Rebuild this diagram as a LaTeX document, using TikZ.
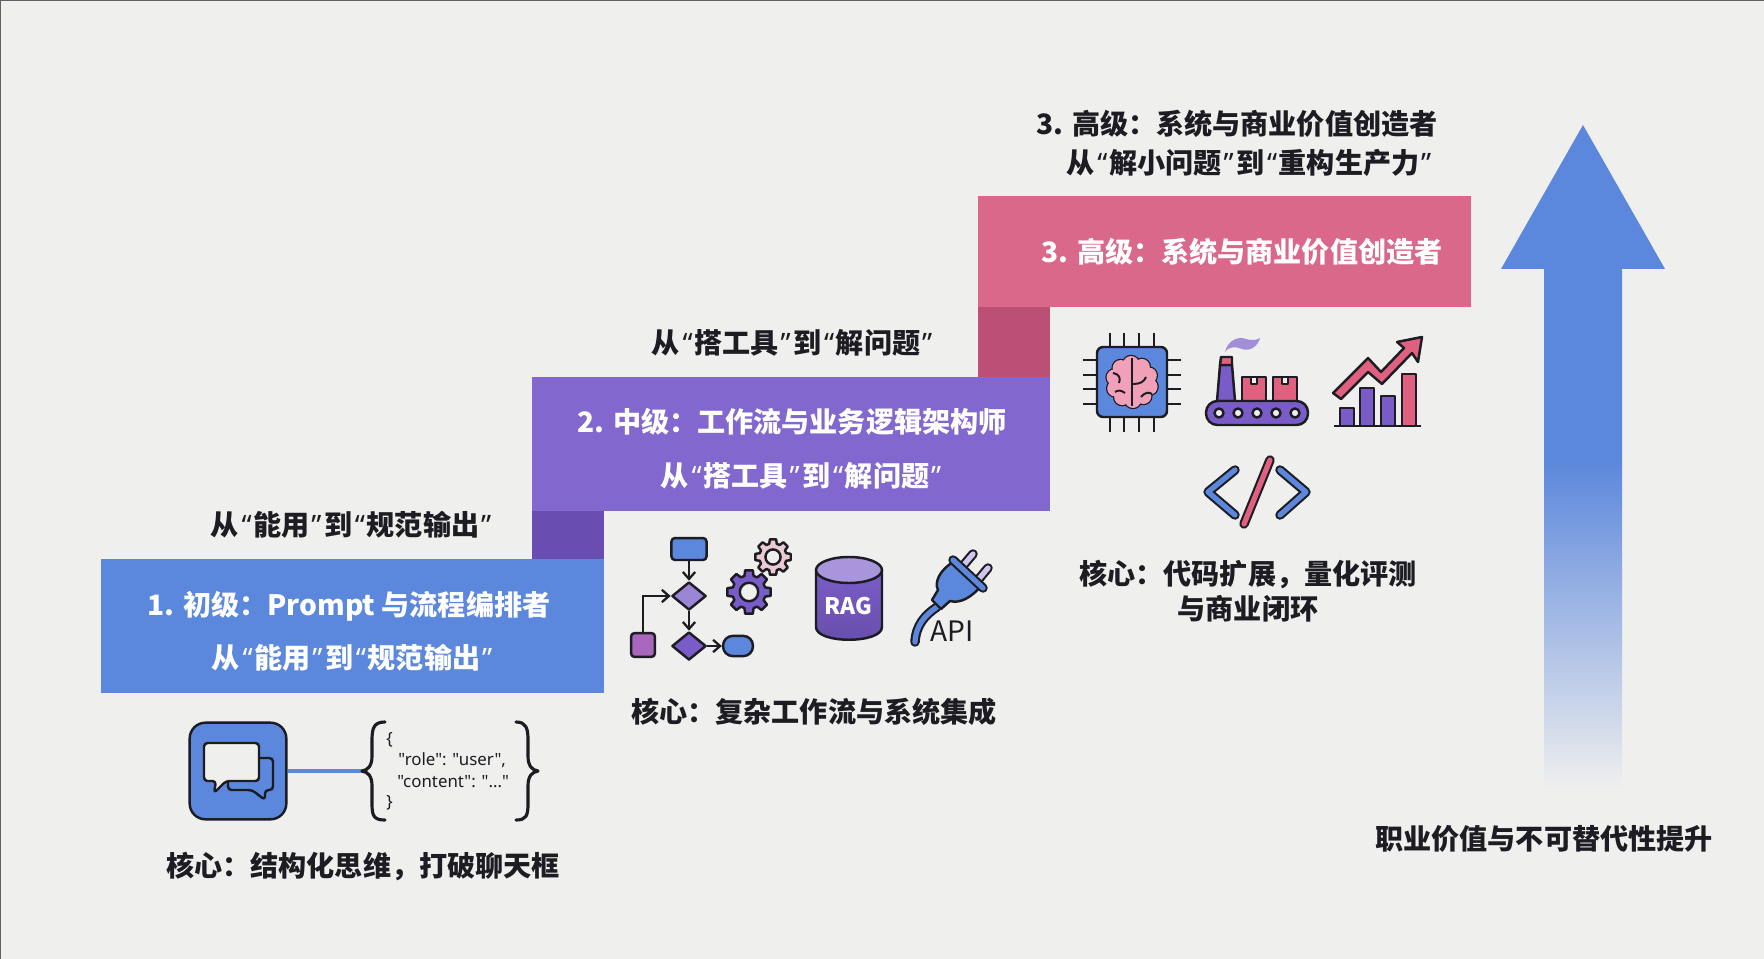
\documentclass[tikz,border=0pt]{standalone}
\usepackage{fontspec}
\setmainfont{Noto Sans CJK SC}
\newfontfamily\latinfont{Noto Sans}
\usetikzlibrary{arrows.meta,shapes.geometric}
\definecolor{pagebg}{HTML}{EFEFEE}
\definecolor{stepblue}{HTML}{5B87DC}
\definecolor{steppurple}{HTML}{8167CE}
\definecolor{steppink}{HTML}{D9688A}
\definecolor{linkpurple}{HTML}{6A4DB0}
\definecolor{linkpink}{HTML}{BC4F76}
\definecolor{iconpurple}{HTML}{7A5CC8}
\definecolor{iconpink}{HTML}{E0607F}
\definecolor{softpink}{HTML}{F0A0B8}
\definecolor{inputmauve}{HTML}{A866BD}
\definecolor{inkline}{HTML}{1C1C22}
\newcommand{\qopen}{\hspace{1.5pt}{\latinfont\bfseries “}\hspace{1pt}}
\newcommand{\qclose}{\hspace{1pt}{\latinfont\bfseries ”}\hspace{1.5pt}}
\newcommand{\gearicon}[3]{
	\begin{scope}[shift={#1},scale=#2]
		\draw[iconline,fill=#3] (-16:0.76) \foreach \a in {0,45,...,315}{
				-- (\a-16:0.76) -- (\a-10:1) -- (\a+10:1) -- (\a+16:0.76)
			} -- cycle;
		\draw[iconline,fill=pagebg] (0,0) circle (0.42);
	\end{scope}
}
\tikzset{
	steptext/.style={font=\fontsize{16}{20}\selectfont\bfseries,text=white,inner sep=0pt},
	blacktext/.style={font=\fontsize{16}{20}\selectfont\bfseries,text=inkline,inner sep=0pt},
	jsontext/.style={font=\latinfont\fontsize{9.6}{12}\selectfont,text=inkline,inner sep=0pt,anchor=west},
	iconline/.style={draw=inkline,line width=1.4pt,line join=round},
	outlined/.style={draw=inkline,line width=1.2pt,double=#1,double distance=3pt,line cap=round,line join=round},
	flowarrow/.style={draw=inkline,line width=1.3pt,-{Straight Barb[length=4pt,width=7pt]}},
	flowbox/.style={iconline,inner sep=0pt,rounded corners=2pt},
	flowdia/.style={iconline,diamond,inner sep=0pt,minimum width=19.5pt,minimum height=16pt}
}
\begin{document}
\begin{tikzpicture}[x=0.02cm,y=-0.02cm]
	\useasboundingbox (0,0) rectangle (1764,959);
	\fill[pagebg] (0,0) rectangle (1764,959);

	\fill[linkpink] (978,307) rectangle (1050,377);
	\fill[linkpurple] (532,511) rectangle (604,559);
	\fill[stepblue] (101,559) rectangle (604,693);
	\fill[steppurple] (532,377) rectangle (1050,511);
	\fill[steppink] (978,196) rectangle (1471,307);

	\node[blacktext] (seniortop) at (1237,124) {3. 高级：系统与商业价值创造者};
	\node[blacktext] (seniorsub) at (1249,163) {从\qopen 解小问题\qclose 到\qopen 重构生产力\qclose};
	\node[steptext] (senior) at (1242,252) {3. 高级：系统与商业价值创造者};
	\node[blacktext] (middletop) at (792,343) {从\qopen 搭工具\qclose 到\qopen 解问题\qclose};
	\node[steptext] (middle) at (792,422) {2. 中级：工作流与业务逻辑架构师};
	\node[steptext] (middlesub) at (801,476) {从\qopen 搭工具\qclose 到\qopen 解问题\qclose};
	\node[blacktext] (juniortop) at (351,525) {从\qopen 能用\qclose 到\qopen 规范输出\qclose};
	\node[steptext] (junior) at (349,606) {1. 初级：Prompt 与流程编排者};
	\node[steptext] (juniorsub) at (352,658) {从\qopen 能用\qclose 到\qopen 规范输出\qclose};

	\node[blacktext] (corejunior) at (363,866) {核心：结构化思维，打破聊天框};
	\node[blacktext] (coremiddle) at (814,712) {核心：复杂工作流与系统集成};
	\node[blacktext] (coresenior) at (1248,574) {核心：代码扩展，量化评测};
	\node[blacktext] (coreseniortwo) at (1248,609) {与商业闭环};
	\node[blacktext] (valuelabel) at (1544,839) {职业价值与不可替代性提升};

	\fill[stepblue] (1583,125) -- (1665,269) -- (1622,269) -- (1622,460) -- (1544,460) -- (1544,269) -- (1501,269) -- cycle;
	\shade[top color=stepblue,bottom color=pagebg] (1544,460) rectangle (1622,789);

	\node[iconline,fill=stepblue,rounded corners=9pt,inner sep=0pt,minimum width=55pt,minimum height=55pt] (chaticon) at (238,771) {};
	\coordinate (bracetip) at (362,771);
	\draw[stepblue,line width=2pt] (chaticon) -- (bracetip);
	\draw[iconline,fill=stepblue,rounded corners=2pt] (228,758) -- (273,758) -- (273,790) -- (265,790) -- (265,800) -- (252,790) -- (228,790) -- cycle;
	\draw[iconline,fill=pagebg,rounded corners=2pt] (204,743) -- (259,743) -- (259,781) -- (226,781) -- (214,793) -- (216,781) -- (204,781) -- cycle;
	\draw[iconline,line width=1.8pt,line cap=round] (385,722) .. controls (374,722) and (372,728) .. (372,740) -- (372,756) .. controls (372,766) and (368,770) .. (bracetip) .. controls (368,772) and (372,776) .. (372,786) -- (372,804) .. controls (372,816) and (374,820) .. (385,820);
	\draw[iconline,line width=1.8pt,line cap=round] (516,722) .. controls (526,722) and (528,728) .. (528,740) -- (528,756) .. controls (528,766) and (532,770) .. (538,771) .. controls (532,772) and (528,776) .. (528,786) -- (528,804) .. controls (528,816) and (526,820) .. (516,820);
	\node[jsontext] (jsonopen) at (386,740) {\{};
	\node[jsontext] (jsonrole) at (398,760) {"role": "user",};
	\node[jsontext] (jsoncontent) at (397,782) {"content": "..."};
	\node[jsontext] (jsonclose) at (386,803) {\}};

	\node[flowbox,fill=stepblue,minimum width=20pt,minimum height=12.5pt] (flowstart) at (689,549) {};
	\node[flowdia,fill=iconpurple!75] (flowcheck) at (689,596) {};
	\node[flowdia,fill=iconpurple] (flowdecide) at (689,646) {};
	\node[flowbox,fill=inputmauve,minimum width=13.6pt,minimum height=13.6pt] (flowinput) at (643,645) {};
	\node[flowbox,fill=stepblue,rounded corners=5.5pt,minimum width=17pt,minimum height=11.5pt] (flowend) at (738,646) {};
	\draw[flowarrow] (flowstart) -- (flowcheck);
	\draw[flowarrow] (flowcheck) -- (flowdecide);
	\draw[flowarrow] (flowdecide) -- (flowend);
	\draw[flowarrow] (flowinput.north) |- (flowcheck.west);
	\gearicon{(773,557)}{18}{iconpink!25!pagebg}
	\gearicon{(749,592)}{22}{iconpurple}

	\draw[iconline,top color=iconpurple,bottom color=iconpurple!85!black] (816,570) -- (816,627) .. controls (816,644) and (882,644) .. (882,627) -- (882,570) -- cycle;
	\draw[iconline,fill=iconpurple!65] (849,570) ellipse [x radius=33,y radius=13];
	\node[text=white,font=\fontsize{13}{15}\selectfont\bfseries,inner sep=0pt] (raglabel) at (848,606) {RAG};

	\draw[outlined=stepblue] (937,607) .. controls (925,615) and (916,625) .. (915,642);
	\draw[outlined=iconpurple!35] (962,567) -- (973,554);
	\draw[outlined=iconpurple!35] (978,580) -- (988,568);
	\draw[iconline,fill=stepblue] (953,562) .. controls (940,570) and (934,582) .. (938,590) -- (932,600) -- (941,609) -- (950,601) .. controls (960,604) and (972,597) .. (981,586) -- cycle;
	\draw[outlined=stepblue] (953,560) -- (983,588);
	\node[text=inkline,font=\fontsize{16}{18}\selectfont,inner sep=0pt] (apilabel) at (952,631) {API};

	\foreach \x in {1110,1124,1139,1154}{
			\draw[iconline] (\x,333) -- (\x,432);
		}
	\foreach \y in {360,375,389,404}{
			\draw[iconline] (1083,\y) -- (1181,\y);
		}
	\draw[iconline,fill=stepblue,rounded corners=3.5pt] (1097,347) rectangle (1167,417);
	\foreach \a in {15,51,...,375}{
			\draw[iconline] (1132,382) ++(\a:18) circle (8);
		}
	\foreach \a in {15,51,...,375}{
			\fill[softpink] (1132,382) ++(\a:18) circle (8);
		}
	\fill[softpink] (1132,382) circle (19);
	\draw[iconline,line width=1.1pt] (1132,358) -- (1132,406);
	\draw[iconline,line width=1.1pt] (1113,373) .. controls (1119,374) and (1121,378) .. (1119,383);
	\draw[iconline,line width=1.1pt] (1125,393) .. controls (1121,390) and (1118,390) .. (1115,392);
	\draw[iconline,line width=1.1pt] (1133,384) .. controls (1140,384) and (1144,382) .. (1146,377);
	\draw[iconline,line width=1.1pt] (1141,397) .. controls (1145,392) and (1149,392) .. (1152,394);

	\fill[iconpurple!70] (1225,352) .. controls (1228,340) and (1238,336) .. (1246,339) .. controls (1252,341) and (1257,340) .. (1260,338) .. controls (1258,346) and (1250,352) .. (1242,349) .. controls (1235,346) and (1228,347) .. (1225,352) -- cycle;
	\draw[iconline,fill=iconpurple] (1217,401) -- (1220,365) -- (1232,365) -- (1235,401) -- cycle;
	\draw[iconline,fill=iconpink] (1220,365) -- (1221,357) -- (1232,357) -- (1232,365) -- cycle;
	\foreach \x in {1242,1273}{
			\draw[iconline,fill=iconpink] (\x,377) rectangle ++(24,24);
			\draw[iconline,line width=0.8pt,fill=pagebg] (\x+9,377) rectangle ++(6,7);
		}
	\draw[iconline,fill=iconpurple,rounded corners=6.5pt] (1206,401) rectangle (1308,425);
	\foreach \x in {1219,1238,1257,1276,1295}{
			\draw[iconline,fill=pagebg] (\x,413) circle (4.5);
		}

	\foreach \x/\y/\barcolor in {1340/408/iconpurple,1360/388/iconpurple,1381/396/iconpurple,1402/374/iconpink}{
			\draw[iconline,fill=\barcolor] (\x,\y) rectangle (\x+14,426);
		}
	\draw[iconline] (1334,426) -- (1421,426);
	\draw[iconline,fill=iconpink] (1333,393) -- (1368,358) -- (1381,372) -- (1404,348) -- (1397,342) -- (1422,337) -- (1418,362) -- (1412,353) -- (1382,384) -- (1368,372) -- (1341,399) -- cycle;

	\draw[outlined=stepblue] (1235,470) -- (1208,492) -- (1235,515);
	\draw[outlined=iconpink] (1270,460) -- (1244,524);
	\draw[outlined=stepblue] (1280,470) -- (1306,492) -- (1280,515);

	\draw[inkline!70,line width=0.6pt] (0,959) -- (0,0) -- (1764,0);
\end{tikzpicture}
\end{document}
